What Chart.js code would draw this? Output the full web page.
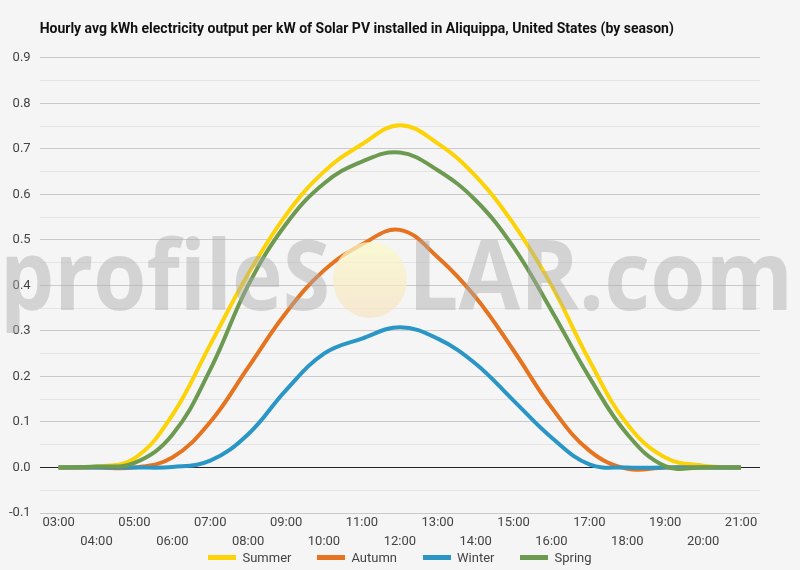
<!DOCTYPE html>
<html>
<head>
<meta charset="utf-8">
<script src="https://cdn.jsdelivr.net/npm/chart.js@4/dist/chart.umd.min.js"></script>
<style>
  html, body { margin: 0; padding: 0; background: #f5f5f5; }
  #wrap { position: relative; width: 800px; height: 570px; }
  #legend {
    position: absolute; left: 0; top: 549px; width: 800px; height: 16px;
    display: flex; justify-content: center; align-items: center;
    font: 13px Roboto, sans-serif; color: #444;
  }
  #legend .item { display: flex; align-items: center; margin: 0 13px; }
  #legend .box { width: 28px; height: 5px; margin-right: 6px; }
</style>
</head>
<body>
<div id="wrap">
  <canvas id="chart"></canvas>
  <div id="legend"></div>
</div>
<script>
const hours = ["03:00", "04:00", "05:00", "06:00", "07:00", "08:00", "09:00", "10:00", "11:00", "12:00",
  "13:00", "14:00", "15:00", "16:00", "17:00", "18:00", "19:00", "20:00", "21:00"];

const summer = [0, 0.002, 0.02, 0.115, 0.27, 0.425, 0.555, 0.65, 0.71, 0.752, 0.712, 0.64, 0.535, 0.4, 0.235, 0.095, 0.022, 0.004, 0];
const autumn = [0, 0, 0, 0.022, 0.1, 0.22, 0.34, 0.433, 0.49, 0.522, 0.462, 0.374, 0.257, 0.132, 0.037, -0.003, 0, 0, 0];
const winter = [0, 0, 0, 0.001, 0.015, 0.073, 0.17, 0.25, 0.283, 0.308, 0.283, 0.228, 0.147, 0.066, 0.007, 0, 0, 0, 0];
const spring = [0, 0.002, 0.01, 0.072, 0.215, 0.4, 0.535, 0.624, 0.672, 0.692, 0.653, 0.587, 0.484, 0.345, 0.198, 0.073, 0.003, 0, 0];

const seriesNames = ["Summer", "Autumn", "Winter", "Spring"];
const seriesColors = ["#fcd307", "#e5731f", "#2a96c6", "#6d9a51"];

const titleText = "Hourly avg kWh electricity output per kW of Solar PV installed in Aliquippa, United States (by season)";

// big translucent "profileSOLAR.com" mark over the plot
const watermark = {
  id: "watermark",
  afterDatasetsDraw(chart) {
    const ctx = chart.ctx;
    const base = 310;
    ctx.save();
    ctx.font = "bold 96px 'Open Sans', sans-serif";
    ctx.fillStyle = "rgba(170,170,170,0.45)";
    ctx.textBaseline = "alphabetic";

    const parts = [["profileS", 0, 330], ["LAR.com", 408, 793]];
    parts.forEach(([txt, x0, x1]) => {
      const w = ctx.measureText(txt).width;
      ctx.save();
      ctx.translate(x0, base);
      ctx.scale((x1 - x0) / w, 1);
      ctx.fillText(txt, 0, 0);
      ctx.restore();
    });

    const grad = ctx.createLinearGradient(0, 243, 0, 317);
    grad.addColorStop(0, "rgba(251,249,200,0.75)");
    grad.addColorStop(1, "rgba(246,226,190,0.65)");
    ctx.fillStyle = grad;
    ctx.beginPath();
    ctx.ellipse(370, 280, 37, 38, 0, 0, Math.PI * 2);
    ctx.fill();
    ctx.restore();
  },
};

// legend built from the datasets, laid out like the original
const htmlLegend = {
  id: "htmlLegend",
  afterUpdate(chart) {
    const el = document.getElementById("legend");
    el.innerHTML = "";
    chart.data.datasets.forEach((ds) => {
      const item = document.createElement("div");
      item.className = "item";
      const box = document.createElement("span");
      box.className = "box";
      box.style.background = ds.borderColor;
      const txt = document.createElement("span");
      txt.textContent = ds.label;
      item.appendChild(box);
      item.appendChild(txt);
      el.appendChild(item);
    });
  },
};

const values = [summer, autumn, winter, spring];
const drawOrder = [3, 2, 1, 0];

new Chart(document.getElementById("chart"), {
  type: "line",
  data: {
    labels: hours,
    datasets: seriesNames.map((name, i) => ({
      label: name,
      data: values[i],
      borderColor: seriesColors[i],
      backgroundColor: seriesColors[i],
      borderWidth: 4,
      pointRadius: 0,
      tension: 0.4,
      fill: false,
      order: drawOrder[i],
    })),
  },
  options: {
    responsive: true,
    maintainAspectRatio: false,
    animation: false,
    layout: { padding: { left: 0, right: 40, top: 0, bottom: 18.6 } },
    plugins: {
      legend: { display: false },
      tooltip: { enabled: false },
      title: {
        display: true,
        text: titleText,
        align: "start",
        fullSize: false,
        color: "#111",
        font: { family: "Roboto", size: 14, weight: "bold" },
        padding: { top: 21, bottom: 20 },
      },
    },
    scales: {
      x: {
        offset: true,
        grid: { display: false, drawTicks: false },
        border: { display: false },
        ticks: {
          autoSkip: false,
          maxRotation: 0,
          padding: 1,
          color: "#444",
          font: { family: "Roboto", size: 13, lineHeight: 1.4 },
          callback: (val, i) => (i % 2 === 0 ? hours[i] : ["", hours[i]]),
        },
      },
      y: {
        min: -0.1,
        max: 0.9,
        border: { display: false },
        grid: {
          drawTicks: false,
          color: (c) => {
            const v = c.tick.value;
            if (Math.abs(v) < 1e-9) return "#222";
            return Math.round(v * 20) % 2 ? "#e4e4e4" : "#cacaca";
          },
        },
        ticks: {
          stepSize: 0.05,
          padding: 9,
          color: "#444",
          font: { family: "Roboto", size: 13 },
          callback: (v) => (Math.round(v * 20) % 2 ? "" : v.toFixed(1)),
        },
      },
    },
  },
  plugins: [watermark, htmlLegend],
});
</script>
</body>
</html>
